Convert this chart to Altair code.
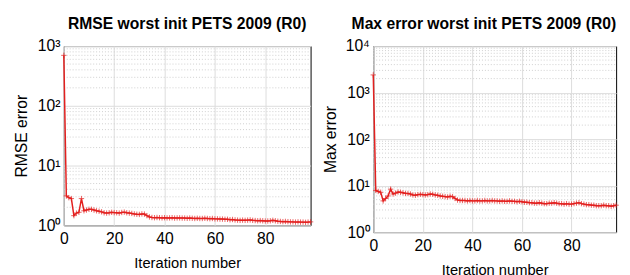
import altair as alt
import pandas as pd

iterations = list(range(99))

rmse_values = [
    700, 3.1, 2.9, 2.8, 1.45, 1.6, 1.65, 2.8, 1.75, 1.8,
    1.85, 1.85, 1.8, 1.75, 1.72, 1.68, 1.62, 1.6, 1.62, 1.65,
    1.63, 1.62, 1.6, 1.64, 1.66, 1.62, 1.6, 1.58, 1.55, 1.53,
    1.52, 1.55, 1.54, 1.45, 1.38, 1.35, 1.34, 1.35, 1.34, 1.33,
    1.34, 1.33, 1.33, 1.34, 1.32, 1.33, 1.33, 1.32, 1.32, 1.31,
    1.32, 1.31, 1.30, 1.31, 1.30, 1.30, 1.31, 1.30, 1.29, 1.30,
    1.28, 1.28, 1.27, 1.27, 1.26, 1.26, 1.24, 1.25, 1.23, 1.22,
    1.21, 1.22, 1.21, 1.22, 1.23, 1.21, 1.20, 1.19, 1.20, 1.19,
    1.18, 1.18, 1.19, 1.21, 1.19, 1.17, 1.16, 1.15, 1.16, 1.15,
    1.14, 1.14, 1.13, 1.14, 1.13, 1.13, 1.12, 1.13, 1.14,
]

max_values = [
    2400, 7.9, 7.5, 7.2, 4.7, 5.3, 6.0, 8.4, 6.6, 6.9,
    7.3, 7.2, 7.0, 6.8, 6.8, 6.6, 6.3, 6.2, 6.4, 6.5,
    6.4, 6.3, 6.4, 6.6, 6.5, 6.3, 6.2, 6.0, 5.9, 5.8,
    5.7, 5.9, 5.8, 5.3, 4.9, 4.8, 4.8, 4.8, 4.7, 4.8,
    4.7, 4.7, 4.8, 4.7, 4.7, 4.8, 4.7, 4.7, 4.8, 4.7,
    4.7, 4.6, 4.7, 4.6, 4.6, 4.7, 4.6, 4.6, 4.5, 4.6,
    4.5, 4.4, 4.4, 4.3, 4.3, 4.2, 4.2, 4.3, 4.2, 4.1,
    4.1, 4.2, 4.2, 4.3, 4.2, 4.1, 4.1, 4.0, 4.1, 4.0,
    4.0, 4.1, 4.2, 4.3, 4.1, 4.0, 3.9, 3.9, 3.8, 3.8,
    3.7, 3.7, 3.7, 3.8, 3.7, 3.7, 3.6, 3.7, 3.8,
]

x_ticks = [0, 20, 40, 60, 80]
rmse_decades = [1, 10, 100, 1000]
max_decades = [1, 10, 100, 1000, 10000]
exp_labels = ["10⁰", "10¹", "10²", "10³", "10⁴"]

FONT = "Liberation Sans"
RED = "#e3201f"


def minor_values(decades):
    out = []
    for d in decades[:-1]:
        for m in range(2, 10):
            out.append(m * d)
    return out


def panel(values, decades, title, ytitle, w, h, anchor):
    df = pd.DataFrame({"it": iterations, "v": values})
    minor_df = pd.DataFrame({"v": minor_values(decades)})
    yscale = alt.Scale(type="log", domain=[decades[0], decades[-1]], nice=False)
    xscale = alt.Scale(domain=[0, 98], nice=False, zero=False)
    label_list = "[" + ",".join("'" + s + "'" for s in exp_labels) + "]"

    xenc = alt.X(
        "it:Q", scale=xscale,
        axis=alt.Axis(values=x_ticks, title="Iteration number", grid=True,
                      gridColor="#dcdcdc", tickSize=0, domain=False,
                      labelPadding=6, titlePadding=9, labelFlush=False,
                      titleFontSize=15),
    )
    yaxis = alt.Axis(values=decades, title=ytitle, grid=True, gridColor="#dcdcdc",
                     tickSize=0, domain=False, labelPadding=4, titlePadding=7,
                     titleFontSize=16,
                     labelExpr=label_list + "[round(log(datum.value)/LN10)]")
    yenc = alt.Y("v:Q", scale=yscale, axis=yaxis)

    grid = alt.Chart(minor_df).mark_rule(
        color="#cfcfcf", strokeDash=[1, 2], strokeWidth=1
    ).encode(
        y=yenc,
        x=alt.value(0),
        x2=alt.value(w),
    )

    line = alt.Chart(df).mark_line(color=RED, strokeWidth=1.5).encode(x=xenc, y=yenc)
    pts = alt.Chart(df).mark_point(
        shape="M-1,0L1,0M0,-1L0,1", size=30, color=RED, filled=False, strokeWidth=1
    ).encode(x=xenc, y=yenc)

    return alt.layer(grid, line, pts).properties(
        width=w, height=h,
        title=alt.Title(title, fontSize=16, fontWeight="bold", font=FONT,
                        color="black", offset=6, anchor=anchor, frame="group"),
    )


left = panel(rmse_values, rmse_decades, "RMSE worst init PETS 2009 (R0)", "RMSE error",
             252, 183, "middle")
right = panel(max_values, max_decades, "Max error worst init PETS 2009 (R0)", "Max error",
              248, 190, "end")

chart = alt.hconcat(
    left, right, spacing=5, background="white",
    padding={"left": 5, "top": 5, "right": 0, "bottom": 0},
).configure_view(
    stroke="black", strokeWidth=1
).configure_axis(
    labelFont=FONT, titleFont=FONT, labelFontSize=16,
    labelColor="black", titleColor="black", titleFontWeight="normal",
)

chart.save("out.html", embed_options={"renderer": "svg", "actions": False})
